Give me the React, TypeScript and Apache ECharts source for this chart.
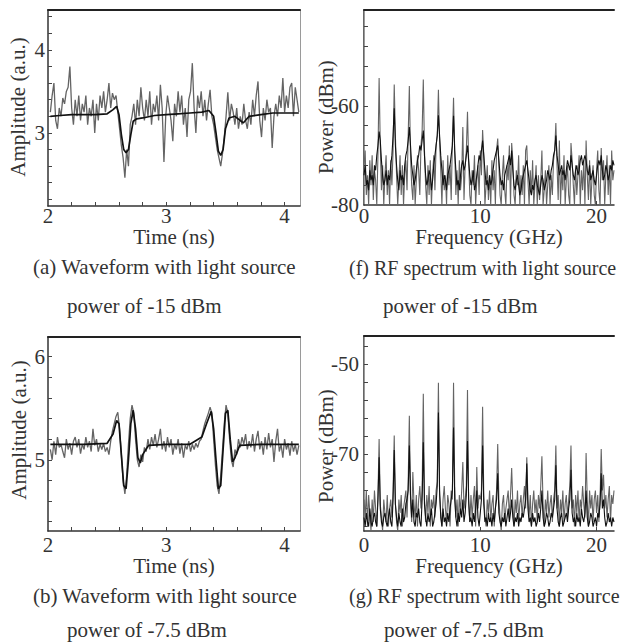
import React, { useEffect, useRef } from "react";
import * as echarts from "echarts";

// ---------- Waveform data (time in ns, sampled every T_STEP from T_START) ----------
const T_START = 2.02;
const T_STEP = 0.015;

// (a) noisy measured waveform, light source power -15 dBm
const waveA_raw = [
  3.25, 3.45, 3.6, 3.15, 3.05, 3.3, 3.2, 3.42, 3.35, 3.5,
  3.55, 3.8, 3.3, 3.1, 3.4, 3.2, 3.45, 3.15, 3.35, 3.25,
  3.45, 3.1, 3.3, 3.2, 3.4, 3.0, 3.35, 3.15, 3.45, 3.3,
  3.5, 3.25, 3.4, 3.6, 3.3, 3.48, 3.4, 3.45, 3.25, 3.05,
  2.85, 2.7, 2.46, 2.8, 2.6, 3.1, 3.2, 3.35, 3.1, 3.4,
  3.2, 3.55, 3.3, 3.15, 3.4, 3.2, 3.5, 3.1, 3.35, 3.25,
  3.45, 3.15, 3.58, 3.3, 2.65, 3.2, 3.45, 3.3, 3.15, 2.9,
  3.35, 3.2, 3.5, 3.25, 3.45, 3.1, 3.3, 2.95, 3.4, 3.5,
  3.84, 3.3, 3.0, 3.45, 3.3, 3.5, 3.2, 3.4, 3.15, 3.35,
  3.52, 3.2, 3.1, 2.95, 2.8, 2.7, 2.6, 2.75, 2.95, 3.2,
  3.49, 3.15, 3.35, 3.25, 3.1, 3.3, 3.05, 3.2, 3.1, 3.35,
  3.15, 3.05, 3.25, 3.1, 3.4, 3.2, 3.45, 3.62, 3.15, 2.95,
  3.3, 3.15, 3.4, 3.25, 3.3, 2.82, 3.2, 3.35, 3.2, 3.45,
  3.3, 3.66, 3.25, 3.45, 3.3, 3.55, 3.6, 3.2, 3.55, 3.4,
  3.25,
];
// (a) averaged waveform
const waveA_avg_t = [
  2.02, 2.1, 2.2, 2.3, 2.4, 2.5, 2.55, 2.58, 2.6, 2.62, 2.64, 2.66, 2.68, 2.7, 2.72,
  2.75, 2.8, 2.9, 3.0, 3.1, 3.2, 3.3, 3.36, 3.4, 3.42, 3.44, 3.46, 3.48, 3.5, 3.53,
  3.58, 3.65, 3.7, 3.8, 3.9, 4.0, 4.12,
];
const waveA_avg = [
  3.2, 3.21, 3.22, 3.22, 3.22, 3.23, 3.28, 3.32, 3.22, 2.98, 2.8, 2.76, 2.8, 2.98, 3.14,
  3.17, 3.18, 3.21, 3.22, 3.23, 3.24, 3.25, 3.27, 3.2, 3.0, 2.78, 2.73, 2.8, 3.05, 3.18,
  3.2, 3.12, 3.2, 3.22, 3.24, 3.24, 3.24,
];

// (b) noisy measured waveform, light source power -7.5 dBm
const waveB_raw = [
  5.1, 5.0, 5.18, 5.05, 5.22, 5.12, 5.15, 5.08, 5.02, 5.2,
  5.1, 5.16, 5.05, 5.18, 5.22, 5.12, 5.2, 5.06, 5.15, 5.1,
  5.22, 5.12, 5.18, 5.08, 5.3, 5.14, 5.2, 5.08, 5.15, 5.1,
  5.16, 5.08, 5.12, 5.05, 5.18, 5.28, 5.35, 5.42, 5.46, 5.3,
  5.05, 4.8, 4.67, 4.85, 5.15, 5.4, 5.53, 5.45, 5.2, 5.0,
  4.93, 5.05, 4.98, 5.12, 5.08, 5.2, 5.1, 5.22, 5.14, 5.25,
  5.12, 5.2, 5.3, 5.1, 5.18, 5.08, 5.22, 5.12, 5.2, 5.05,
  5.15, 5.1, 5.2, 5.06, 5.16, 5.02, 5.14, 5.1, 5.18, 5.08,
  5.15, 5.1, 5.16, 5.12, 5.18, 5.2, 5.28, 5.35, 5.4, 5.45,
  5.51, 5.45, 5.2, 4.95, 4.75, 4.67, 4.85, 5.1, 5.35, 5.53,
  5.45, 5.2, 5.0, 4.93, 5.1, 5.05, 5.2, 5.12, 5.22, 5.15,
  5.25, 5.1, 5.18, 5.12, 5.25, 5.08, 5.2, 5.28, 5.1, 5.18,
  5.05, 5.22, 5.1, 5.26, 5.12, 5.2, 4.98, 5.18, 5.3, 5.08,
  5.15, 5.02, 5.2, 5.1, 5.16, 5.04, 5.18, 5.08, 5.15, 5.05,
  5.14,
];
// (b) averaged waveform
const waveB_avg_t = [
  2.02, 2.3, 2.5, 2.55, 2.58, 2.6, 2.62, 2.64, 2.66, 2.68, 2.7, 2.72, 2.74, 2.76, 2.78,
  2.8, 2.85, 3.0, 3.2, 3.3, 3.34, 3.38, 3.4, 3.42, 3.44, 3.46, 3.48, 3.5, 3.52, 3.54,
  3.56, 3.58, 3.62, 3.8, 4.12,
];
const waveB_avg = [
  5.15, 5.15, 5.16, 5.25, 5.38, 5.35, 5.05, 4.75, 4.72, 5.0, 5.35, 5.48, 5.3, 5.02, 4.97,
  5.05, 5.14, 5.15, 5.15, 5.22, 5.35, 5.47, 5.3, 5.0, 4.72, 4.75, 5.1, 5.45, 5.48, 5.2,
  4.98, 5.02, 5.14, 5.15, 5.15,
];

// ---------- RF spectra (frequency in GHz, every F_STEP from 0) ----------
const F_STEP = 0.1;

// (f) -15 dBm, two traces
const specF_gray = [
  -72, -69, -78, -74, -80, -71, -76, -70, -79, -73,
  -75, -80, -70, -54.4, -68, -77, -72, -80, -74, -70,
  -78, -73, -80, -71, -76, -69, -55.7, -66, -74, -80,
  -75, -70, -78, -72, -80, -74, -71, -77, -66, -56,
  -70, -76, -79, -72, -80, -75, -70, -73, -78, -68,
  -65, -54.7, -69, -76, -80, -72, -78, -71, -80, -74,
  -70, -77, -68, -66, -56.8, -67, -73, -80, -71, -77,
  -74, -80, -70, -76, -72, -79, -67, -58.4, -69, -78,
  -73, -80, -71, -77, -74, -64.3, -79, -72, -69, -61.2,
  -71, -78, -80, -73, -76, -70, -80, -75, -72, -78,
  -69, -74, -64.9, -70, -80, -76, -72, -79, -74, -80,
  -71, -77, -73, -80, -69, -66.6, -72, -78, -80, -74,
  -70, -77, -80, -72, -75, -68, -80, -67.5, -71, -78,
  -80, -73, -76, -70, -80, -74, -78, -72, -80, -69,
  -68, -75, -80, -73, -78, -71, -80, -76, -72, -80,
  -74, -79, -75, -69, -80, -77, -73, -80, -76, -72,
  -80, -74, -78, -71, -69, -63.5, -72, -79, -67, -80,
  -73, -77, -70, -80, -75, -72, -78, -80, -67.5, -71,
  -76, -80, -72, -78, -74, -70, -80, -73, -77, -71,
  -80, -67, -74, -79, -71, -80, -75, -72, -78, -80,
  -73, -69, -77, -80, -68.5, -75, -71, -80, -74, -70,
  -78, -72, -80, -69, -75, -73,
];
const specF_black = [
  -74, -72, -76, -75, -77, -73, -75, -74, -76, -72,
  -73, -70, -68, -65.2, -67, -71, -74, -76, -75, -73,
  -76, -74, -75, -72, -70, -66, -60.5, -68, -72, -75,
  -77, -73, -75, -74, -76, -72, -70, -69, -67, -64.3,
  -68, -72, -74, -76, -75, -73, -71, -70, -68, -69,
  -67, -65, -70, -74, -76, -75, -73, -74, -77, -75,
  -72, -70, -68, -66, -61.9, -66, -70, -73, -76, -74,
  -75, -77, -74, -73, -72, -70, -68, -62, -69, -73,
  -76, -75, -77, -74, -72, -71, -73, -72, -70, -68,
  -71, -74, -76, -75, -73, -77, -76, -74, -72, -70,
  -71, -69, -67, -70, -73, -76, -75, -77, -74, -76,
  -75, -73, -71, -70, -69, -68, -71, -74, -76, -75,
  -77, -74, -73, -72, -71, -70, -72, -69, -73, -76,
  -77, -75, -74, -76, -78, -77, -75, -74, -73, -72,
  -71, -73, -75, -77, -78, -76, -77, -75, -74, -76,
  -77, -78, -76, -74, -75, -77, -76, -75, -73, -74,
  -75, -73, -72, -70, -69, -66, -70, -72, -74, -73,
  -72, -74, -73, -75, -73, -71, -72, -73, -70, -72,
  -74, -75, -73, -72, -74, -73, -71, -70, -72, -71,
  -70, -71, -73, -74, -72, -75, -74, -73, -75, -76,
  -74, -72, -71, -72, -70, -73, -75, -74, -72, -73,
  -75, -74, -72, -73, -71, -72,
];

// (g) -7.5 dBm, two traces
const specG_gray = [
  -80, -84, -78, -86, -79, -83, -87, -80, -85, -78,
  -82, -86, -79, -66.6, -81, -84, -87, -80, -83, -85,
  -79, -86, -82, -80, -84, -78, -65.8, -81, -85, -87,
  -80, -83, -79, -86, -82, -80, -78, -84, -76, -61.4,
  -80, -85, -73.9, -81, -84, -79, -86, -80, -77, -82,
  -78, -56.5, -80, -85, -79, -83, -77, -86, -80, -82,
  -79, -84, -78, -76, -54.1, -79, -83, -86, -80, -77,
  -82, -85, -79, -81, -86, -78, -80, -54.1, -77, -84,
  -80, -86, -79, -83, -78, -71.7, -82, -80, -77, -55.7,
  -81, -85, -79, -84, -80, -77, -86, -72.8, -82, -79,
  -80, -78, -59.4, -79, -84, -86, -80, -83, -78, -85,
  -81, -79, -86, -82, -78, -67.7, -80, -84, -87, -81,
  -79, -85, -82, -80, -78, -84, -79, -73, -81, -86,
  -80, -83, -78, -85, -81, -79, -84, -80, -77, -82,
  -70.6, -80, -84, -79, -86, -81, -78, -83, -80, -85,
  -79, -82, -77, -70.4, -81, -86, -80, -83, -78, -84,
  -81, -79, -85, -80, -78, -68, -82, -79, -86, -80,
  -83, -78, -85, -81, -79, -84, -80, -77, -68, -82,
  -80, -86, -79, -83, -78, -85, -80, -82, -77, -81,
  -84, -69.7, -80, -86, -78, -82, -79, -85, -80, -78,
  -83, -79, -85, -80, -68.8, -78, -74.5, -82, -79, -84,
  -80, -77, -85, -79, -81, -78,
];
const specG_black = [
  -84, -86, -83, -85, -86, -82, -85, -86, -84, -83,
  -85, -86, -80, -70.6, -82, -85, -86, -84, -83, -85,
  -86, -84, -82, -85, -86, -80, -69, -81, -84, -86,
  -83, -85, -86, -82, -85, -84, -81, -80, -78, -68,
  -79, -84, -80, -85, -86, -83, -84, -82, -85, -86,
  -80, -67.3, -81, -84, -86, -83, -85, -84, -82, -86,
  -85, -83, -81, -77, -60.7, -78, -84, -86, -82, -85,
  -84, -86, -83, -85, -82, -80, -78, -64, -80, -84,
  -86, -83, -85, -82, -84, -80, -85, -83, -79, -67,
  -80, -85, -84, -86, -83, -85, -82, -78, -84, -86,
  -83, -80, -68, -81, -85, -84, -86, -83, -85, -84,
  -86, -83, -85, -82, -80, -74.2, -83, -85, -86, -84,
  -85, -83, -86, -84, -82, -85, -83, -80, -84, -86,
  -84, -85, -83, -86, -84, -85, -83, -84, -82, -80,
  -72, -82, -85, -84, -86, -83, -85, -84, -86, -85,
  -83, -85, -82, -78, -84, -86, -85, -83, -84, -86,
  -85, -83, -84, -82, -80, -72.4, -82, -85, -86, -84,
  -83, -86, -85, -84, -83, -85, -82, -80, -73.4, -83,
  -85, -84, -86, -83, -85, -84, -86, -82, -84, -85,
  -83, -78, -84, -86, -85, -83, -84, -86, -85, -84,
  -86, -83, -84, -81, -74.2, -82, -80, -84, -86, -85,
  -83, -85, -84, -86, -84, -85,
];

// ---------- Axis ticks / labels ----------
const timeLabels = [2, 3, 4];
const timeTicks = [2.2, 2.4, 2.6, 2.8, 3, 3.2, 3.4, 3.6, 3.8, 4];
const freqLabels = [0, 10, 20];
const freqTicks = [10, 20];
const ampA_labels = [3, 4];
const ampA_ticks = [2.2, 2.4, 2.6, 2.8, 3, 3.2, 3.4, 3.6, 3.8, 4, 4.2, 4.4];
const ampB_labels = [5, 6];
const ampB_ticks = [4.4, 4.6, 4.8, 5, 5.2, 5.4, 5.6, 5.8, 6];
const powF_labels = [-80, -60];
const powF_ticks = [-76, -72, -68, -64, -60, -56, -52, -48, -44];
const powG_labels = [-70, -50];
const powG_ticks = [-86, -82, -78, -74, -70, -66, -62, -58, -54, -50, -46];

const FONT = "Liberation Serif";
const TXT = "#333";
const GRAY = "#646464";
const BLACK = "#111";

const sampled = (arr: number[], start: number, step: number) =>
  arr.map((v, i) => [+(start + i * step).toFixed(4), v]);
const paired = (xs: number[], ys: number[]) => xs.map((x, i) => [x, ys[i]]);

export default function App() {
  const ref = useRef<HTMLDivElement>(null);

  useEffect(() => {
    if (!ref.current) return;
    const chart = echarts.init(ref.current, undefined, { renderer: "svg" });

    const grids = [
      { left: 48, top: 10, width: 252, height: 196 },
      { left: 364, top: 10, width: 250, height: 195 },
      { left: 48, top: 337, width: 252, height: 194 },
      { left: 364, top: 336, width: 250, height: 195 },
    ];

    const labelStyle = { fontFamily: FONT, fontSize: 21, color: TXT };

    const mainX = (
      gi: number, min: number, max: number, labels: number[], ticks: number[],
      name: string, nameGap: number, margin: number
    ) => ({
      type: "value", gridIndex: gi, min, max, position: "bottom",
      name, nameLocation: "middle", nameGap,
      nameTextStyle: { fontFamily: FONT, fontSize: 21, color: TXT },
      axisLine: { show: true, lineStyle: { color: "#333", width: 1.5 } },
      axisTick: { show: true, inside: true, length: 4, customValues: ticks, lineStyle: { color: "#444" } },
      axisLabel: { ...labelStyle, margin, customValues: labels },
      splitLine: { show: false },
    });
    const mainY = (
      gi: number, min: number, max: number, labels: number[], ticks: number[], margin: number
    ) => ({
      type: "value", gridIndex: gi, min, max, position: "left",
      axisLine: { show: true, lineStyle: { color: "#333", width: 1.5 } },
      axisTick: { show: true, inside: true, length: 4, customValues: ticks, lineStyle: { color: "#444" } },
      axisLabel: { ...labelStyle, margin, customValues: labels },
      splitLine: { show: false },
    });
    const borderX = (gi: number) => ({
      type: "value", gridIndex: gi, min: 0, max: 1, position: "top",
      axisLine: { show: true, lineStyle: { color: "#222", width: 2 } },
      axisTick: { show: false }, axisLabel: { show: false }, splitLine: { show: false },
    });
    const borderY = (gi: number) => ({
      type: "value", gridIndex: gi, min: 0, max: 1, position: "right",
      axisLine: { show: true, lineStyle: { color: "#9a9a9a", width: 1 } },
      axisTick: { show: false }, axisLabel: { show: false }, splitLine: { show: false },
    });

    const line = (xi: number, data: number[][], color: string, width: number) => ({
      type: "line", xAxisIndex: xi, yAxisIndex: xi, data,
      symbol: "none", showSymbol: false, silent: true,
      lineStyle: { color, width }, z: color === BLACK ? 3 : 2,
    });

    const textEl = (text: string, x: number, y: number, rot = 0, align = "left", size = 21) => ({
      type: "text", x, y, rotation: rot,
      style: {
        text, fill: TXT, font: `${size}px "${FONT}"`,
        textAlign: align, align, textVerticalAlign: "middle", verticalAlign: "middle",
      },
    });

    chart.setOption({
      animation: false,
      backgroundColor: "#fff",
      grid: grids,
      xAxis: [
        mainX(0, 2, 4.13, timeLabels, timeTicks, "Time (ns)", 19, -1),
        mainX(1, 0, 21.5, freqLabels, freqTicks, "Frequency (GHz)", 15, 0),
        mainX(2, 2, 4.13, timeLabels, timeTicks, "Time (ns)", 18, 3),
        mainX(3, 0, 21.5, freqLabels, freqTicks, "Frequency (GHz)", 17, 3),
        borderX(0), borderX(1), borderX(2), borderX(3),
      ],
      yAxis: [
        mainY(0, 2.12, 4.48, ampA_labels, ampA_ticks, 3),
        mainY(1, -80, -40.7, powF_labels, powF_ticks, 5),
        mainY(2, 4.31, 6.19, ampB_labels, ampB_ticks, 3),
        mainY(3, -87, -43.7, powG_labels, powG_ticks, 5),
        borderY(0), borderY(1), borderY(2), borderY(3),
      ],
      series: [
        line(0, sampled(waveA_raw, T_START, T_STEP), GRAY, 1.3),
        line(0, paired(waveA_avg_t, waveA_avg), BLACK, 1.7),
        line(1, sampled(specF_gray, 0, F_STEP), GRAY, 1.1),
        line(1, sampled(specF_black, 0, F_STEP), BLACK, 1.1),
        line(2, sampled(waveB_raw, T_START, T_STEP), GRAY, 1.3),
        line(2, paired(waveB_avg_t, waveB_avg), BLACK, 1.7),
        line(3, sampled(specG_gray, 0, F_STEP), GRAY, 1.1),
        line(3, sampled(specG_black, 0, F_STEP), BLACK, 1.1),
      ],
      graphic: [
        textEl("Amplitude (a.u.)", 18, 107, Math.PI / 2, "center"),
        textEl("Power (dBm)", 326, 117, Math.PI / 2, "center"),
        textEl("Amplitude (a.u.)", 19, 430, Math.PI / 2, "center"),
        textEl("Power (dBm)", 326, 446, Math.PI / 2, "center"),
        textEl("(a) Waveform with light source", 33, 267),
        textEl("power of -15 dBm", 67, 306),
        textEl("(f) RF spectrum with light source", 349, 268, 0, "left", 20),
        textEl("power of -15 dBm", 383, 306),
        textEl("(b) Waveform with light source", 33, 596),
        textEl("power of -7.5 dBm", 67, 630),
        textEl("(g) RF spectrum with light source", 349, 596, 0, "left", 20),
        textEl("power of -7.5 dBm", 384, 630),
      ],
    });

    return () => chart.dispose();
  }, []);

  return (
    <div
      ref={ref}
      style={{ position: "absolute", left: 0, top: 0, width: 632, height: 644, background: "#fff" }}
    />
  );
}
